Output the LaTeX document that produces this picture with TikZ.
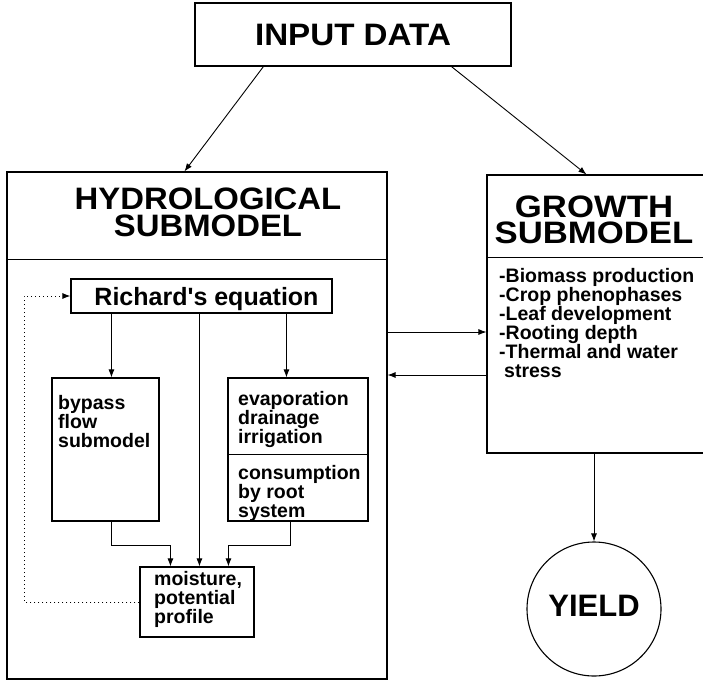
\documentclass[tikz,border=0pt]{standalone}
\usepackage{fontspec}
\usepackage{graphicx}
\setmainfont{Liberation Sans}
\usetikzlibrary{arrows.meta,calc}
\begin{document}
\begin{tikzpicture}[x=1pt,y=-1pt,
  >={Latex[length=8pt,width=6pt]},
  box/.style={draw=black, line width=1.1pt, rectangle, inner sep=0pt},
  arr/.style={line width=0.9pt, ->},
  plain/.style={line width=1.1pt},
  bigtxt/.style={font=\fontsize{31}{27}\selectfont\bfseries},
  midtxt/.style={font=\fontsize{25}{25}\selectfont\bfseries},
  smalltxt/.style={font=\fontsize{19.5}{19}\selectfont\bfseries, inner sep=0pt, align=left, anchor=base west},
  dots/.style={line width=1pt, dash pattern=on 1pt off 3pt}]
\fill[white] (0,0) rectangle (703,682);
\useasboundingbox (0,0) rectangle (703,682);

% boxes
\node[box, minimum width=316pt, minimum height=63pt, bigtxt, text height=22pt, text depth=0pt] (input) at (353,34.5) {\scalebox{1.07}[1]{INPUT DATA}};

\node[box, minimum width=380pt, minimum height=507pt] (hydro) at (197,425.5) {};
\node[bigtxt, align=center, anchor=base, inner sep=0pt] (hydrotitle) at (208,236) {\scalebox{1.06}[1]{HYDROLOGICAL}\\\scalebox{1.06}[1]{SUBMODEL}};
\draw[plain] ([yshift=-88pt]hydro.north west) -- ([yshift=-88pt]hydro.north east);

\node[box, minimum width=219pt, minimum height=278pt] (growth) at (596.5,314) {};
\node[font=\fontsize{31}{26}\selectfont\bfseries, align=center, anchor=base, inner sep=0pt] (growthtitle) at (594,243) {\scalebox{1.12}[1]{GROWTH}\\\scalebox{1.12}[1]{SUBMODEL}};
\draw[plain] ([yshift=-83pt]growth.north west) -- ([yshift=-83pt]growth.north east);
\node[smalltxt] (growthlist) at (499,377) {-Biomass production\\-Crop phenophases\\-Leaf development\\-Rooting depth\\-Thermal and water\\\hspace*{5pt}stress};

\node[box, minimum width=261pt, minimum height=34pt, midtxt, text height=18pt, text depth=0pt] (richard) at (201.5,296) {\hspace*{10pt}Richard\textquotesingle s equation};

\node[box, minimum width=107pt, minimum height=143pt] (bypass) at (105.5,449.5) {};
\node[smalltxt] (bypasstxt) at (58,447) {bypass\\flow\\submodel};

\node[box, minimum width=140pt, minimum height=143pt] (evap) at (298,449.5) {};
\draw[plain] ([yshift=-77pt]evap.north west) -- ([yshift=-77pt]evap.north east);
\node[smalltxt] (evaptxt) at (238,443) {evaporation\\drainage\\irrigation};
\node[smalltxt] (constxt) at (238,517) {consumption\\by root\\system};

\node[box, minimum width=114pt, minimum height=70pt] (moist) at (197,602) {};
\node[smalltxt] (moisttxt) at (154,623) {moisture,\\potential\\profile};

\node[draw, circle, line width=1.1pt, minimum size=134pt, inner sep=0pt, bigtxt, text height=22pt, text depth=8pt] (yield) at (594,609) {YIELD};

% connectors
\draw[arr] ([xshift=69pt]input.south west) -- ([xshift=178pt]hydro.north west);
\draw[arr] ([xshift=257pt]input.south west) -- ([xshift=100pt]growth.north west);

\draw[arr] ([xshift=41pt]richard.south west) -- ([xshift=60pt]bypass.north west);
\draw[arr] ([xshift=129pt]richard.south west) -- ([xshift=60pt]moist.north west);
\draw[arr] ([xshift=216pt]richard.south west) -- ([xshift=59pt]evap.north west);

\draw[arr] ([xshift=60pt]bypass.south west) -- ++(0,24) -| ([xshift=31pt]moist.north west);
\draw[arr] ([xshift=63pt]evap.south west) -- ++(0,24) -| ([xshift=89pt]moist.north west);

\draw[dots, ->] (moist.west) -- ++(-115,0) |- (richard.west);

\coordinate (g1) at ([yshift=-18pt]growth.west);
\coordinate (g2) at ([yshift=-61pt]growth.west);
\draw[arr] (hydro.east |- g1) -- (g1);
\draw[arr] (g2) -- (hydro.east |- g2);

\draw[arr] (growth.south -| yield.north) -- (yield.north);
\end{tikzpicture}
\end{document}
